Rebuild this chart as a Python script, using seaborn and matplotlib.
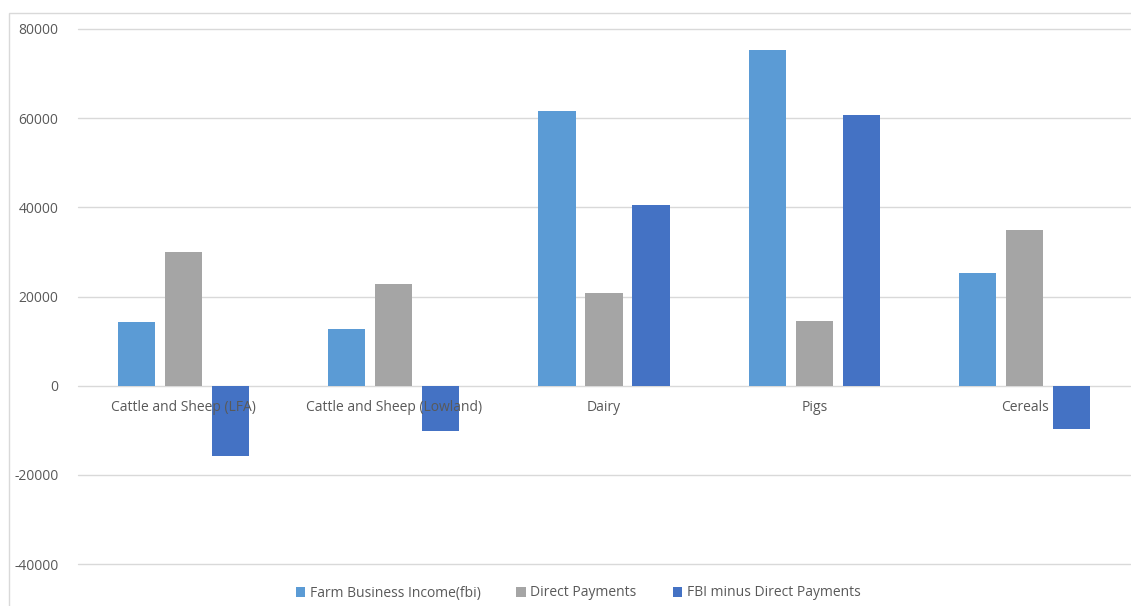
import matplotlib
matplotlib.use("Agg")
import matplotlib.pyplot as plt
import matplotlib.patches as mpatches
import matplotlib.transforms as mtransforms
import seaborn as sns
import pandas as pd

categories = ["Cattle and Sheep (LFA)", "Cattle and Sheep (Lowland)", "Dairy", "Pigs", "Cereals"]
series_names = ["Farm Business Income(fbi)", "Direct Payments", "FBI minus Direct Payments"]
fbi = [14200, 12600, 61500, 75200, 25200]
direct_payments = [30000, 22700, 20800, 14600, 35000]
fbi_minus_dp = [-15800, -10100, 40500, 60600, -9800]
colors = ["#5B9BD5", "#A5A5A5", "#4472C4"]
y_ticks = [-40000, -20000, 0, 20000, 40000, 60000, 80000]

rows = []
for name, vals in zip(series_names, [fbi, direct_payments, fbi_minus_dp]):
    for c, v in zip(categories, vals):
        rows.append({"category": c, "series": name, "value": v})
df = pd.DataFrame(rows)

sns.set_theme(style="white")
plt.rcParams["font.family"] = ["Open Sans", "DejaVu Sans"]

fig = plt.figure(figsize=(11.31, 6.06), dpi=100)
ax = fig.add_axes([78 / 1131, 1 - 564 / 606, 1052 / 1131, (564 - 29) / 606])

sns.barplot(data=df, x="category", y="value", hue="series", order=categories,
            hue_order=series_names, palette=colors, width=0.67, gap=0.21,
            saturation=1, errorbar=None, ax=ax, legend=True, linewidth=0)

ax.set_ylim(-40000, 80000)
ax.set_yticks(y_ticks)
ax.set_yticklabels([str(t) for t in y_ticks], color="#595959", fontsize=10)
ax.set_xlim(-0.5, len(categories) - 0.5)
ax.set_xticks([])
ax.set_xlabel("")
ax.set_ylabel("")
ax.tick_params(axis="y", length=0, pad=14)
ax.grid(axis="y", color="#D9D9D9", linewidth=1)
for gl in ax.get_ygridlines():
    gl.set_clip_on(False)
ax.set_axisbelow(True)
for s in ax.spines.values():
    s.set_visible(False)

offset = mtransforms.offset_copy(ax.transData, fig=fig, x=0, y=-22 / 100 * 72, units="points")
for i, c in enumerate(categories):
    ax.text(i, 0, c, transform=offset, ha="center", va="center",
            fontsize=10, color="#595959", zorder=5)

handles, labels = ax.get_legend_handles_labels()
ax.legend_.remove()
leg = fig.legend(handles, labels, loc="center", bbox_to_anchor=(578 / 1131, 1 - 593 / 606),
                 ncol=3, frameon=False, fontsize=10, handlelength=0.7, handleheight=0.7,
                 handletextpad=0.3, columnspacing=2.6)
for t in leg.get_texts():
    t.set_color("#595959")

fig.patches.append(mpatches.Rectangle((9 / 1131, -0.05), 1.2, 1 - 13 / 606 + 0.05,
                                      transform=fig.transFigure, fill=False,
                                      edgecolor="#D9D9D9", linewidth=1))

fig.savefig("out.png", dpi=100)
